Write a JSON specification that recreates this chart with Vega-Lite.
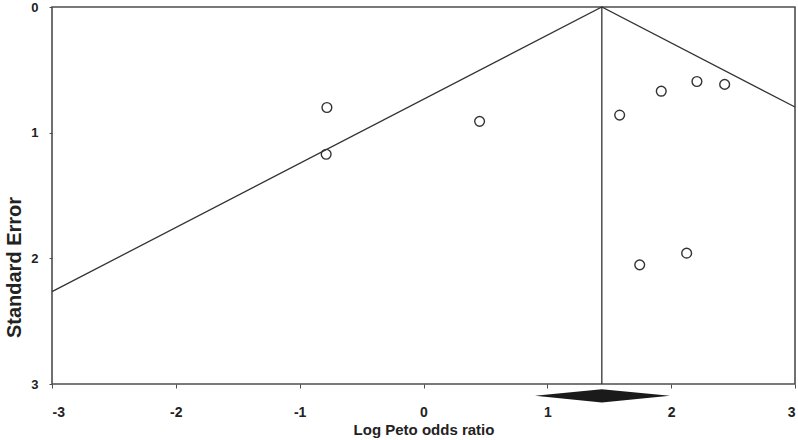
{
  "$schema": "https://vega.github.io/schema/vega-lite/v6.json",
  "width": 743,
  "height": 377,
  "autosize": "none",
  "padding": {"left": 52, "top": 7, "right": 3, "bottom": 56},
  "background": "white",
  "config": {
    "view": {"stroke": "#4d4d4d", "strokeWidth": 1.6},
    "font": "Liberation Sans",
    "axis": {
      "domain": false,
      "grid": false,
      "labelFont": "Liberation Sans",
      "labelFontWeight": "bold",
      "labelFontSize": 14,
      "labelColor": "#222222",
      "tickColor": "#4d4d4d",
      "titleFont": "Liberation Sans",
      "titleFontWeight": "bold",
      "titleColor": "#222222"
    }
  },
  "datasets": {
    "studies": [
      {"lnor": -0.78, "se": 0.80},
      {"lnor": -0.786, "se": 1.172},
      {"lnor": 0.453, "se": 0.91},
      {"lnor": 1.584, "se": 0.86},
      {"lnor": 1.92, "se": 0.67},
      {"lnor": 2.208, "se": 0.593},
      {"lnor": 2.432, "se": 0.616},
      {"lnor": 1.746, "se": 2.052},
      {"lnor": 2.125, "se": 1.959}
    ],
    "funnel": [
      {"lnor": -3, "se": 2.265, "k": 1},
      {"lnor": 1.44, "se": 0, "k": 2},
      {"lnor": 3, "se": 0.796, "k": 3}
    ],
    "pooled": [
      {"lnor": 1.44, "se0": 0, "se1": 3}
    ],
    "diamond": [
      {"lnor": 0.9, "top": 3.094, "bottom": 3.094},
      {"lnor": 1.44, "top": 3.041, "bottom": 3.147},
      {"lnor": 1.99, "top": 3.094, "bottom": 3.094}
    ]
  },
  "layer": [
    {
      "data": {"name": "funnel"},
      "mark": {"type": "line", "color": "#333333", "strokeWidth": 1.3},
      "encoding": {
        "x": {
          "field": "lnor", "type": "quantitative",
          "scale": {"domain": [-3, 3], "nice": false, "zero": false},
          "axis": {"values": [-3, -2, -1, 0, 1, 2, 3], "labelExpr": "toString(datum.value)", "tickSize": 4, "labelPadding": 17, "title": "Log Peto odds ratio", "titleFontSize": 15, "titlePadding": 3}
        },
        "y": {
          "field": "se", "type": "quantitative",
          "scale": {"domain": [0, 3], "reverse": true, "nice": false, "zero": false},
          "axis": {"values": [0, 1, 2, 3], "labelExpr": "toString(datum.value)", "labelFontSize": 13, "tickSize": 3, "labelPadding": 11, "title": "Standard  Error", "titleFontSize": 20, "titleX": -38, "titleY": 260, "titleAngle": -90, "titleBaseline": "middle", "titleAlign": "center"}
        },
        "order": {"field": "k"}
      }
    },
    {
      "data": {"name": "pooled"},
      "mark": {"type": "rule", "color": "#333333", "strokeWidth": 1.3},
      "encoding": {
        "x": {"field": "lnor", "type": "quantitative"},
        "y": {"field": "se0", "type": "quantitative"},
        "y2": {"field": "se1"}
      }
    },
    {
      "data": {"name": "diamond"},
      "mark": {"type": "area", "color": "#1a1a1a", "clip": false},
      "encoding": {
        "x": {"field": "lnor", "type": "quantitative"},
        "y": {"field": "top", "type": "quantitative"},
        "y2": {"field": "bottom"}
      }
    },
    {
      "data": {"name": "studies"},
      "mark": {"type": "point", "shape": "circle", "filled": false, "stroke": "#333333", "strokeWidth": 1.4, "size": 95, "opacity": 1},
      "encoding": {
        "x": {"field": "lnor", "type": "quantitative"},
        "y": {"field": "se", "type": "quantitative"}
      }
    }
  ]
}
